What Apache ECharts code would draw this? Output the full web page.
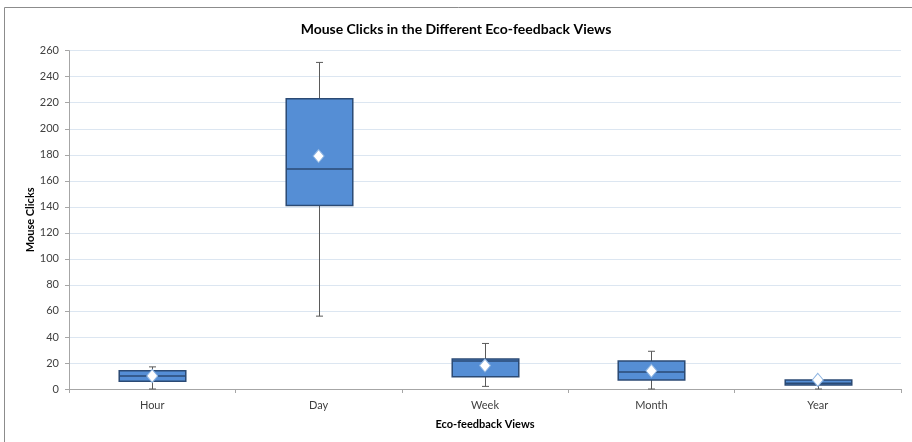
<!DOCTYPE html>
<html>
<head>
<meta charset="utf-8">
<script src="https://cdn.jsdelivr.net/npm/echarts@6/dist/echarts.min.js"></script>
<style>
  html, body { margin: 0; padding: 0; background: #fff; }
  #chart { width: 912px; height: 442px; }
</style>
</head>
<body>
<div id="chart"></div>
<script>
// Five-number summaries and means of mouse clicks per eco-feedback view
const categories = ['Hour', 'Day', 'Week', 'Month', 'Year'];
const minVals    = [0, 56, 2, 0, 0];
const q1Vals     = [6, 141, 9.5, 7, 3];
const medianVals = [10, 169, 21.5, 13, 4.5];
const q3Vals     = [14, 223, 23, 21.5, 7];
const maxVals    = [17, 251, 35, 29, 7.5];
const meanVals   = [10, 179, 18, 14, 7];
const yTicks     = { min: 0, max: 260, step: 20 };

const FONT = 'Lato, "Open Sans", sans-serif';

const boxData = categories.map((c, i) => [i, minVals[i], q1Vals[i], medianVals[i], q3Vals[i], maxVals[i]]);
const meanData = categories.map((c, i) => [i, meanVals[i]]);

function renderBox(params, api) {
  const idx = api.value(0);
  const pMin = api.coord([idx, api.value(1)]);
  const pQ1 = api.coord([idx, api.value(2)]);
  const pMed = api.coord([idx, api.value(3)]);
  const pQ3 = api.coord([idx, api.value(4)]);
  const pMax = api.coord([idx, api.value(5)]);
  const cx = Math.round(pMed[0]) + 0.5;
  const bw = api.size([1, 0])[0] * 0.4;
  const cap = 3.5;
  const whisker = { stroke: '#5a5a5a', lineWidth: 1 };
  const edge = { stroke: '#2b4a74', lineWidth: 1.5 };
  return {
    type: 'group',
    children: [
      { type: 'line', shape: { x1: cx, y1: pQ3[1], x2: cx, y2: pMax[1] }, style: whisker },
      { type: 'line', shape: { x1: cx - cap, y1: pMax[1], x2: cx + cap, y2: pMax[1] }, style: whisker },
      { type: 'line', shape: { x1: cx, y1: pQ1[1], x2: cx, y2: pMin[1] }, style: whisker },
      { type: 'line', shape: { x1: cx - cap, y1: pMin[1], x2: cx + cap, y2: pMin[1] }, style: whisker },
      { type: 'rect', shape: { x: cx - bw / 2, y: pQ3[1], width: bw, height: pQ1[1] - pQ3[1] },
        style: Object.assign({ fill: '#558ed5' }, edge) },
      { type: 'line', shape: { x1: cx - bw / 2, y1: pMed[1], x2: cx + bw / 2, y2: pMed[1] }, style: edge }
    ]
  };
}

const chart = echarts.init(document.getElementById('chart'));
chart.setOption({
  animation: false,
  backgroundColor: '#fff',
  graphic: [{
    type: 'rect', z: -10, silent: true,
    shape: { x: 4.5, y: 7.5, width: 930, height: 460 },
    style: { fill: 'none', stroke: '#8c8c8c', lineWidth: 1 }
  }],
  title: {
    text: 'Mouse Clicks in the Different Eco-feedback Views',
    left: 'center', top: 17,
    textStyle: { fontFamily: FONT, fontSize: 14, fontWeight: 'bold', color: '#000' }
  },
  grid: { left: 69, right: 11, top: 50.7, bottom: 53, containLabel: false },
  xAxis: {
    type: 'category',
    data: categories,
    boundaryGap: true,
    name: 'Eco-feedback Views',
    nameLocation: 'middle',
    nameGap: 30,
    nameMoveOverlap: false,
    nameTextStyle: { fontFamily: FONT, fontSize: 11, fontWeight: 'bold', color: '#000' },
    axisLine: { lineStyle: { color: '#a6a6a6', width: 1 } },
    axisTick: { show: true, length: 4, lineStyle: { color: '#a6a6a6' } },
    axisLabel: { fontFamily: FONT, fontSize: 11, color: '#404040', margin: 11 },
    splitLine: { show: false }
  },
  yAxis: {
    type: 'value',
    min: yTicks.min, max: yTicks.max, interval: yTicks.step,
    name: 'Mouse Clicks',
    nameLocation: 'middle',
    nameGap: 33,
    nameMoveOverlap: false,
    nameTextStyle: { fontFamily: FONT, fontSize: 11, fontWeight: 'bold', color: '#000' },
    axisLine: { show: true, lineStyle: { color: '#a6a6a6', width: 1 } },
    axisTick: { show: true, length: 4, lineStyle: { color: '#a6a6a6' } },
    axisLabel: { fontFamily: FONT, fontSize: 11, color: '#404040', margin: 10 },
    splitLine: { show: true, lineStyle: { color: '#dce6f1', width: 1 } }
  },
  series: [
    {
      type: 'custom',
      renderItem: renderBox,
      data: boxData,
      encode: { x: 0, y: [1, 2, 3, 4, 5] },
      z: 2
    },
    {
      type: 'scatter',
      data: meanData,
      symbol: 'diamond',
      symbolSize: [11, 13],
      itemStyle: { color: '#ffffff', borderColor: '#8db4e2', borderWidth: 1, opacity: 1 },
      z: 3
    }
  ]
});
</script>
</body>
</html>
